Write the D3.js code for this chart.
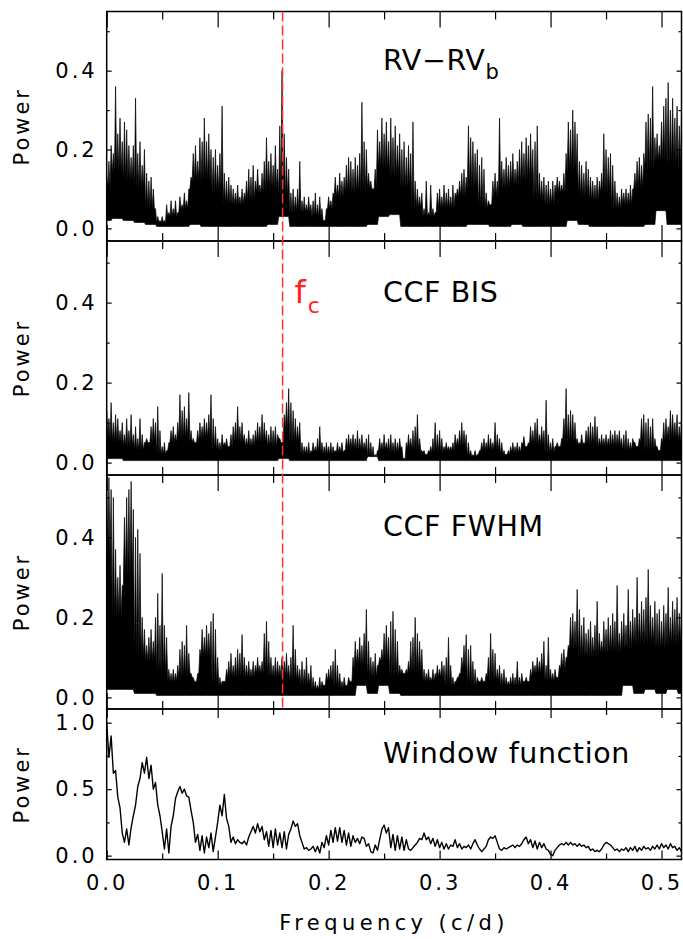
<!DOCTYPE html>
<html>
<head>
<meta charset="utf-8">
<script src="https://cdn.jsdelivr.net/npm/d3@7/dist/d3.min.js"></script>
<style>
    body { margin: 0; background: #fff; }
    svg text { font-family: "DejaVu Sans", "Liberation Sans", sans-serif; fill: #000; }
</style>
</head>
<body>
<div id="chart"></div>
<script>

// ---- data ----
// periodogram peaks sampled every 0.002 c/d, from 0.000 to 0.518
const freqStep = 0.002;
// lower edge and solid-body level of the black periodogram mass, every 0.01 c/d
const envStep = 0.01;

const rvPower = [
    .13,.17,.21,.19,.36, .24,.28,.22,.27,.25, .21,.18,.21,.33,.19, .22,.16,.20,.14,.12,
    .13,.10,.05,.03,.02, .03,.02,.06,.04,.07, .05,.07,.04,.08,.06, .09,.07,.10,.13,.19,
    .21,.17,.23,.22,.28, .22,.24,.20,.18,.20, .16,.19,.31,.14,.12, .13,.11,.10,.09,.11,
    .08,.10,.09,.12,.15, .13,.16,.12,.15,.11, .14,.17,.23,.17,.19, .16,.21,.15,.26,.40,
    .24,.18,.15,.09,.10, .08,.10,.17,.07,.08, .06,.08,.06,.07,.09, .06,.08,.05,.02,.05,
    .08,.07,.09,.13,.11, .14,.12,.13,.16,.18, .17,.15,.18,.16,.19, .32,.22,.20,.14,.12,
    .10,.15,.25,.22,.28, .24,.27,.22,.28,.23, .26,.21,.24,.20,.22, .18,.21,.19,.27,.12,
    .10,.08,.09,.05,.12, .04,.11,.05,.04,.09, .10,.08,.11,.09,.10, .08,.11,.09,.10,.12,
    .14,.15,.13,.26,.23, .22,.19,.20,.16,.18, .15,.09,.07,.06,.12, .14,.12,.28,.17,.15,
    .18,.16,.17,.19,.15, .17,.20,.22,.19,.23, .21,.24,.20,.22,.26, .14,.12,.13,.11,.12,
    .10,.12,.11,.13,.12, .11,.14,.19,.27,.25, .30,.27,.24,.17,.16, .14,.17,.15,.13,.12,
    .11,.13,.12,.14,.24, .20,.18,.19,.16,.12, .09,.08,.10,.09,.10, .09,.11,.10,.14,.17,
    .18,.16,.19,.27,.29, .28,.36,.23,.24,.21, .27,.31,.33,.37,.30, .33,.28,.31,.26,.29
];
const rvFloor = [
    .02,.025,.02,.015,.01,.005,.005,.005,.01,.005,
    .005,.005,.005,.005,.005,.01,.03,.005,.005,.005,
    .005,.005,.005,.005,.01,.03,.035,.005,.005,.005,
    .005,.005,.005,.01,.01,.005,.005,.01,.005,.005,
    .005,.005,.02,.01,.005,.005,.005,.005,.005,.01,
    .045,.01,.01
];
const rvBody = [
    .10,.14,.12,.10,.05,.015,.03,.05,.12,.12,
    .09,.06,.06,.07,.09,.10,.08,.04,.04,.03,
    .05,.08,.09,.09,.10,.15,.13,.10,.05,.03,
    .05,.05,.08,.10,.05,.08,.10,.11,.12,.07,
    .06,.09,.14,.08,.07,.09,.05,.06,.10,.15,
    .17,.16,.15
];

const bisPower = [
    .13,.11,.15,.10,.12, .11,.08,.10,.07,.11, .08,.12,.07,.09,.06, .11,.07,.05,.06,.05,
    .09,.11,.10,.14,.08, .04,.05,.03,.05,.08, .09,.07,.10,.17,.13, .14,.11,.175,.08,.06,
    .05,.08,.10,.09,.11, .10,.12,.17,.11,.09, .06,.05,.07,.05,.06, .04,.07,.09,.10,.14,
    .09,.10,.07,.06,.08, .06,.07,.08,.10,.09, .12,.10,.08,.07,.09, .08,.09,.07,.06,.05,
    .12,.15,.185,.15,.13, .11,.09,.10,.05,.04, .04,.05,.03,.05,.04, .06,.09,.05,.04,.05,
    .04,.05,.04,.03,.05, .04,.05,.03,.06,.07, .06,.07,.06,.08,.06, .07,.05,.06,.07,.05,
    .04,.02,.03,.06,.05, .07,.05,.06,.07,.05, .06,.05,.06,.04,.01, .05,.07,.06,.08,.09,
    .12,.06,.03,.03,.02, .03,.04,.06,.10,.07, .08,.06,.04,.05,.04, .04,.05,.07,.06,.08,
    .10,.08,.07,.05,.03, .02,.03,.02,.03,.05, .06,.05,.07,.06,.05, .10,.07,.06,.05,.03,
    .02,.03,.04,.05,.04, .05,.04,.05,.065,.04, .05,.09,.08,.10,.11, .07,.09,.08,.156,.07,
    .05,.06,.04,.05,.04, .06,.11,.185,.12,.13, .12,.10,.06,.05,.07, .05,.08,.09,.10,.09,
    .115,.09,.06,.07,.06, .07,.06,.08,.07,.08, .07,.08,.06,.07,.08, .06,.05,.06,.05,.04,
    .06,.11,.12,.10,.11, .09,.11,.06,.04,.03, .06,.10,.11,.09,.13, .12,.10,.12,.09,.11
];
const bisFloor = [
    .01,.01,.005,.005,.005,.005,.005,.005,.005,.005,
    .005,.005,.005,.005,.005,.005,.01,.005,.005,.005,
    .005,.005,.005,.005,.015,.005,.005,.005,.005,.005,
    .005,.005,.005,.005,.005,.005,.005,.005,.005,.005,
    .005,.005,.005,.005,.005,.005,.005,.005,.005,.005,
    .005,.005,.005
];
const bisBody = [
    .06,.05,.04,.03,.05,.02,.05,.06,.05,.06,
    .03,.04,.05,.04,.05,.04,.08,.05,.02,.025,
    .02,.025,.035,.03,.015,.03,.025,.035,.03,.025,
    .025,.03,.04,.015,.03,.03,.02,.025,.045,.045,
    .025,.06,.05,.045,.04,.04,.04,.03,.05,.03,
    .05,.06,.05
];

const fwhmPower = [
    .55,.55,.52,.50,.37, .30,.33,.28,.45,.50, .52,.54,.47,.40,.42, .36,.20,.17,.13,.15,
    .17,.14,.20,.26,.18, .31,.18,.15,.07,.06, .07,.06,.08,.12,.14, .13,.18,.11,.06,.05,
    .04,.06,.12,.17,.15, .18,.16,.19,.21,.17, .10,.05,.04,.04,.07, .09,.11,.08,.10,.12,
    .11,.157,.10,.08,.09, .07,.09,.08,.10,.08, .09,.16,.19,.14,.10, .08,.10,.09,.08,.10,
    .09,.11,.08,.10,.18, .12,.08,.07,.09,.07, .10,.06,.08,.05,.04, .03,.05,.04,.03,.06,
    .07,.08,.09,.12,.08, .06,.04,.05,.03,.05, .04,.10,.14,.12,.15, .13,.16,.22,.14,.10,
    .09,.11,.08,.10,.12, .16,.18,.15,.19,.215, .17,.14,.08,.07,.06, .07,.09,.14,.15,.20,
    .16,.14,.12,.07,.06, .07,.05,.07,.06,.08, .07,.09,.08,.10,.15, .08,.05,.04,.05,.06,
    .10,.13,.157,.12,.13, .09,.07,.05,.04,.05, .04,.06,.10,.16,.12, .11,.07,.08,.06,.07,
    .05,.04,.05,.06,.05, .09,.05,.06,.04,.05, .04,.07,.09,.08,.10, .09,.11,.14,.08,.15,
    .07,.06,.07,.05,.08, .11,.12,.10,.13,.20, .21,.19,.27,.22,.18, .20,.16,.17,.19,.15,
    .18,.24,.16,.14,.19, .17,.20,.18,.21,.19, .28,.16,.19,.21,.18, .27,.19,.22,.20,.30,
    .21,.24,.22,.25,.32, .23,.20,.24,.21,.22, .19,.23,.21,.275,.20, .24,.22,.25,.21,.23
];
const fwhmFloor = [
    .02,.02,.02,.01,.01,.005,.005,.005,.005,.005,
    .005,.005,.005,.005,.005,.005,.005,.005,.005,.005,
    .005,.005,.005,.03,.01,.03,.01,.005,.005,.005,
    .005,.005,.005,.005,.005,.005,.005,.005,.005,.005,
    .005,.005,.005,.005,.005,.005,.005,.03,.01,.02,
    .01,.02,.01
];
const fwhmBody = [
    .35,.20,.30,.10,.09,.06,.04,.05,.08,.10,
    .03,.05,.05,.05,.06,.05,.05,.04,.03,.02,
    .04,.025,.07,.08,.05,.09,.05,.06,.06,.04,
    .05,.03,.07,.03,.05,.04,.03,.03,.05,.06,
    .04,.07,.12,.10,.10,.11,.11,.12,.13,.13,
    .12,.13,.13
];

// window function, every 0.002 c/d
const windowPower = [
    1.00,.74,.90,.62,.64, .44,.36,.17,.10,.20, .08,.21,.30,.38,.52, .58,.70,.62,.74,.58,
    .68,.50,.55,.38,.30, .18,.05,.20,.02,.22, .30,.43,.48,.52,.47, .50,.45,.44,.34,.25,
    .10,.16,.04,.15,.02, .14,.06,.17,.03,.14, .25,.38,.30,.46,.28, .22,.10,.14,.09,.12,
    .10,.09,.11,.08,.14, .18,.22,.17,.24,.18, .22,.12,.18,.07,.19, .06,.20,.08,.17,.06,
    .18,.05,.16,.20,.26, .22,.24,.15,.10,.05, .06,.04,.05,.07,.03, .07,.02,.10,.06,.15,
    .08,.19,.10,.21,.11, .21,.10,.19,.08,.17, .07,.15,.10,.13,.09, .14,.13,.07,.09,.03,
    .02,.08,.04,.12,.20, .23,.17,.21,.06,.16, .04,.15,.05,.14,.04, .12,.05,.04,.06,.08,
    .10,.13,.12,.17,.12, .14,.09,.13,.07,.12, .06,.10,.05,.09,.05, .08,.07,.12,.06,.09,
    .05,.07,.06,.08,.05, .09,.12,.08,.05,.03, .05,.07,.12,.14,.13, .15,.10,.05,.04,.06,
    .05,.06,.07,.08,.06, .08,.07,.09,.12,.14, .09,.12,.06,.11,.05, .10,.06,.09,.05,.04,
    .01,.00,.04,.06,.08, .09,.08,.10,.08,.10, .08,.09,.07,.09,.07, .08,.06,.07,.04,.05,
    .03,.04,.03,.05,.08, .10,.09,.08,.06,.04, .05,.03,.05,.04,.06, .03,.06,.04,.07,.03,
    .06,.04,.07,.05,.06, .04,.07,.05,.08,.05, .09,.06,.08,.05,.09, .06,.07,.04,.06,.03
];

const freqDomain = [0, 0.518];
const freqTicks = [0, 0.1, 0.2, 0.3, 0.4, 0.5];
const freqMinorTicks = [0.05, 0.15, 0.25, 0.35, 0.45];
const powerTicks = [0, 0.2, 0.4];
const powerMinorTicks = [0.1, 0.3, 0.5];
const windowTicks = [0, 0.5, 1.0];
const windowMinorTicks = [0.25, 0.75];
const fcFreq = 0.1585;

// ---- layout ----
const plotLeft = 106.7, plotRight = 681.5;

const panels = [
    { id: "rv",   top: 11.5, bottom: 241, domain: [-0.032, 0.55], power: rvPower,   floor: rvFloor, body: rvBody,
      ticks: powerTicks, minor: powerMinorTicks, xMajor: 16, xMinor: 8, titleY: 70 },
    { id: "bis",  top: 241,  bottom: 475, domain: [-0.031, 0.554], power: bisPower,  floor: bisFloor, body: bisBody,
      ticks: powerTicks, minor: powerMinorTicks, xMajor: 16, xMinor: 8, titleY: 302 },
    { id: "fwhm", top: 475,  bottom: 709, domain: [-0.029, 0.556], power: fwhmPower, floor: fwhmFloor, body: fwhmBody,
      ticks: powerTicks, minor: powerMinorTicks, xMajor: 16, xMinor: 8, titleY: 536 },
    { id: "win",  top: 709,  bottom: 859.5, domain: [-0.029, 1.103], power: windowPower, floor: null, body: null,
      ticks: windowTicks, minor: windowMinorTicks, xMajor: 9, xMinor: 6, titleY: 763 }
];

let svg = d3.select("#chart").append("svg")
    .attr("width", 683)
    .attr("height", 939);

let x = d3.scaleLinear().domain(freqDomain).range([plotLeft, plotRight]);


class PanelVis {

    constructor(_svg, _cfg) {
        this.svg = _svg;
        this.cfg = _cfg;
        this.initVis();
    }

    initVis() {
        let vis = this;
        let c = vis.cfg;

        vis.y = d3.scaleLinear().domain(c.domain).range([c.bottom, c.top]);
        vis.g = vis.svg.append("g").attr("class", "panel " + c.id);

        vis.g.append("clipPath")
            .attr("id", "clip-" + c.id)
            .append("rect")
            .attr("x", plotLeft)
            .attr("y", c.top)
            .attr("width", plotRight - plotLeft)
            .attr("height", c.bottom - c.top);

        vis.drawData();
        vis.drawAxes();
    }

    drawData() {
        let vis = this;
        let c = vis.cfg;

        if (c.floor) {
            // periodogram: solid from the floor up to the body level, with the
            // peaks rising above it as narrow spikes
            let envAt = (arr, f) => arr[Math.round(f / envStep)];
            let pts = [];
            c.power.forEach((p, i) => {
                let f = i * freqStep;
                pts.push([f, p]);
                if (i < c.power.length - 1) {
                    let fm = f + freqStep / 2;
                    pts.push([fm, Math.min(envAt(c.body, fm), p, c.power[i + 1])]);
                }
            });

            let area = d3.area()
                .x(d => x(d[0]))
                .y0(d => vis.y(envAt(c.floor, d[0])))
                .y1(d => vis.y(d[1]));

            vis.g.append("path")
                .datum(pts)
                .attr("clip-path", "url(#clip-" + c.id + ")")
                .attr("fill", "#000")
                .attr("stroke", "#000")
                .attr("stroke-width", 0.7)
                .attr("stroke-linejoin", "miter")
                .attr("d", area);
        } else {
            let line = d3.line()
                .x((d, i) => x(i * freqStep))
                .y(d => vis.y(d));

            vis.g.append("path")
                .datum(c.power)
                .attr("clip-path", "url(#clip-" + c.id + ")")
                .attr("fill", "none")
                .attr("stroke", "#000")
                .attr("stroke-width", 1.4)
                .attr("stroke-linejoin", "round")
                .attr("d", line);
        }
    }

    drawAxes() {
        let vis = this;
        let c = vis.cfg;

        function ticks(axisFn, scale, values, size, transform) {
            let g = vis.g.append("g")
                .attr("transform", transform)
                .call(axisFn(scale).tickValues(values).tickSize(size).tickSizeOuter(0).tickFormat(""));
            g.select(".domain").remove();
            g.selectAll("line").attr("stroke-width", 1.2);
        }

        // inward ticks on all four sides
        ticks(d3.axisBottom, x, freqTicks, c.xMajor, "translate(0," + c.top + ")");
        ticks(d3.axisBottom, x, freqMinorTicks, c.xMinor, "translate(0," + c.top + ")");
        ticks(d3.axisTop, x, freqTicks, c.xMajor, "translate(0," + c.bottom + ")");
        ticks(d3.axisTop, x, freqMinorTicks, c.xMinor, "translate(0," + c.bottom + ")");
        ticks(d3.axisRight, vis.y, c.ticks, 5, "translate(" + plotLeft + ",0)");
        ticks(d3.axisRight, vis.y, c.minor, 3, "translate(" + plotLeft + ",0)");
        ticks(d3.axisLeft, vis.y, c.ticks, 5, "translate(" + plotRight + ",0)");
        ticks(d3.axisLeft, vis.y, c.minor, 3, "translate(" + plotRight + ",0)");

        // y tick labels
        let yl = vis.g.append("g")
            .attr("transform", "translate(" + plotLeft + ",0)")
            .call(d3.axisLeft(vis.y).tickValues(c.ticks).tickSize(0).tickPadding(9).tickFormat(d3.format(".1f")));
        yl.select(".domain").remove();
        yl.attr("font-family", null).attr("font-size", null);
        yl.selectAll("text")
            .style("font-size", "21px")
            .style("letter-spacing", "3px");

        // frame
        vis.g.append("rect")
            .attr("x", plotLeft)
            .attr("y", c.top)
            .attr("width", plotRight - plotLeft)
            .attr("height", c.bottom - c.top)
            .attr("fill", "none")
            .attr("stroke", "#000")
            .attr("stroke-width", 1.5);

        // y axis title
        vis.g.append("text")
            .attr("transform", "translate(29," + ((c.top + c.bottom) / 2) + ") rotate(-90)")
            .attr("text-anchor", "middle")
            .style("font-size", "21px")
            .style("letter-spacing", "3px")
            .text("Power");
    }
}

let panelVis = panels.map(p => new PanelVis(svg, p));

// panel titles
let titles = svg.append("g")
    .style("font-size", "28.5px")
    .style("letter-spacing", "0.6px")
    .style("white-space", "pre");

let rvTitle = titles.append("text").attr("x", 383).attr("y", panels[0].titleY);
rvTitle.append("tspan").text("RV\u2212RV");
rvTitle.append("tspan").attr("dy", 9).style("font-size", "21px").text("b");

titles.append("text").attr("x", 383).attr("y", panels[1].titleY).text("CCF  BIS");
titles.append("text").attr("x", 383).attr("y", panels[2].titleY).text("CCF  FWHM");
titles.append("text").attr("x", 383).attr("y", panels[3].titleY).text("Window  function");

// x tick labels and title under the bottom panel
let xl = svg.append("g")
    .attr("transform", "translate(0," + panels[3].bottom + ")")
    .call(d3.axisBottom(x).tickValues(freqTicks).tickSize(0).tickPadding(16).tickFormat(d3.format(".1f")));
xl.select(".domain").remove();
xl.attr("font-family", null).attr("font-size", null);
xl.selectAll("text")
    .style("font-size", "21px")
    .style("letter-spacing", "3px");

svg.append("text")
    .attr("x", (plotLeft + plotRight) / 2)
    .attr("y", 930)
    .attr("text-anchor", "middle")
    .style("font-size", "21px")
    .style("letter-spacing", "4.4px")
    .text("Frequency (c/d)");

// f_c marker
svg.append("line")
    .attr("x1", x(fcFreq))
    .attr("x2", x(fcFreq))
    .attr("y1", panels[0].top)
    .attr("y2", panels[2].bottom)
    .attr("stroke", "#ff3030")
    .attr("stroke-width", 1.5)
    .attr("stroke-dasharray", "10,4");

let fcLabel = svg.append("text")
    .attr("x", x(fcFreq) + 12)
    .attr("y", 303)
    .style("fill", "#ff2020");
fcLabel.append("tspan").style("font-size", "32px").text("f");
fcLabel.append("tspan").attr("dy", 10).attr("dx", 2).style("font-size", "22px").text("c");

</script>
</body>
</html>
